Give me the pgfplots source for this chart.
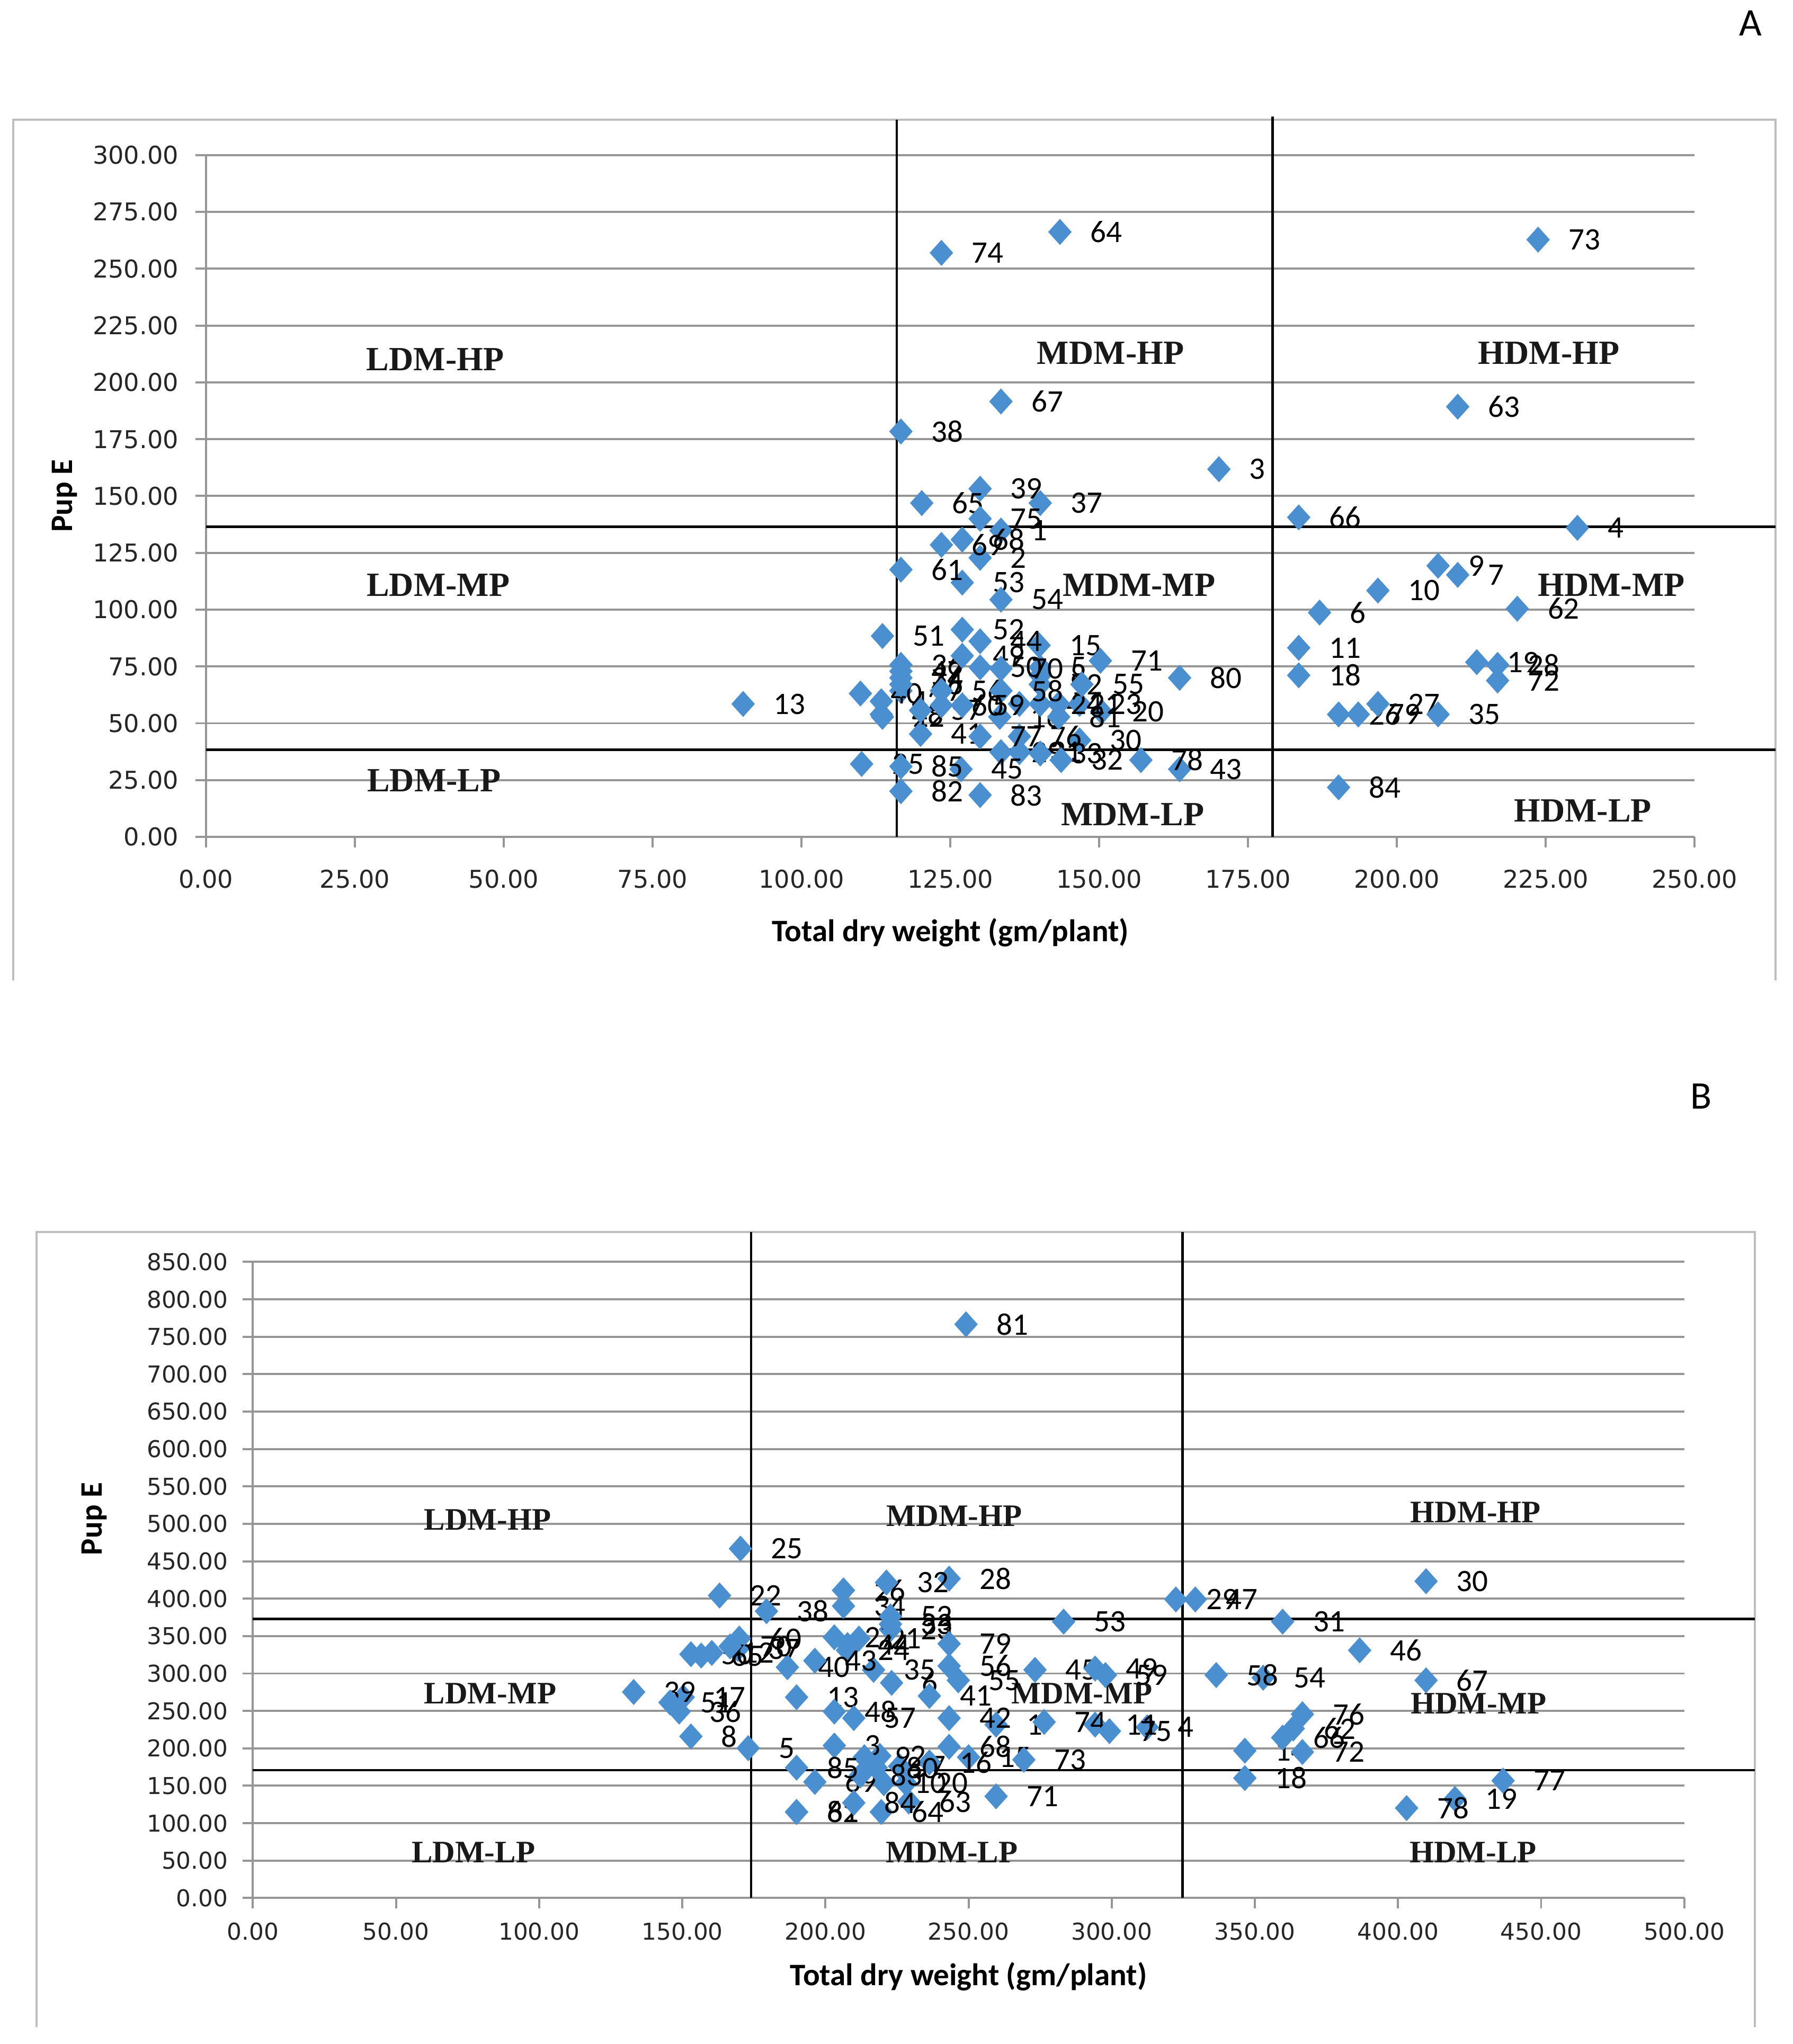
\documentclass[border=0pt]{standalone}
\usepackage{fontspec}
\usepackage{pgfplots}
\usepackage{pgfplotstable}
\pgfplotsset{compat=1.18}

\newfontfamily\tickfont{DejaVu Sans}
\newfontfamily\lblfont{Carlito}
\newfontfamily\quadfont{Liberation Serif}

\definecolor{mk}{RGB}{74,143,208}
\definecolor{gridc}{RGB}{150,150,150}
\definecolor{framec}{RGB}{190,190,190}

% chart A: total dry weight vs Pup E
\pgfplotstableread{
x y lab
133.5 134.8 1
130.0 122.8 2
170.1 161.8 3
230.3 136.0 4
140.1 74.6 5
187.0 98.7 6
210.2 115.3 7
140.1 71.1 8
206.9 119.3 9
196.8 108.4 10
183.5 83.2 11
140.1 67.1 12
90.2 58.5 13
136.6 58.5 14
139.9 84.3 15
133.3 52.8 16
116.7 64.3 17
183.5 71.1 18
213.4 76.9 19
150.4 55.1 20
143.2 58.5 21
113.6 52.8 22
146.7 58.5 23
140.1 58.5 24
110.1 32.1 25
190.2 53.9 26
196.8 58.5 27
216.9 75.7 28
133.5 37.3 29
146.7 42.5 30
136.6 37.3 31
143.6 33.8 32
140.1 36.7 33
116.7 70.0 34
206.9 53.9 35
116.7 75.7 36
140.1 146.9 37
116.7 178.4 38
130.0 153.2 39
109.9 63.1 40
120.0 45.3 41
113.4 59.7 42
163.5 29.8 43
130.0 86.1 44
126.8 29.8 45
116.7 67.1 46
116.7 72.9 47
113.4 53.9 48
127.0 79.7 49
130.0 74.6 50
113.6 88.4 51
127.0 91.2 52
127.0 111.9 53
133.5 104.4 54
147.1 67.1 55
123.5 64.3 56
120.0 55.7 57
133.5 64.3 58
127.0 57.9 59
123.5 57.9 60
116.7 117.6 61
220.2 100.4 62
210.2 189.3 63
143.4 266.2 64
120.2 146.9 65
183.5 140.6 66
133.5 191.6 67
127.0 130.8 68
123.5 128.5 69
133.5 74.0 70
150.2 77.5 71
216.9 68.8 72
223.7 262.8 73
123.5 257.0 74
130.0 140.0 75
136.6 44.2 76
130.0 44.2 77
157.0 33.8 78
193.5 53.9 79
163.5 70.0 80
143.2 52.8 81
116.7 20.1 82
130.0 18.4 83
190.2 21.8 84
116.7 31.0 85
}\dataA

% chart B
\pgfplotstableread{
x y lab
259.6 231.7 1
219.0 189.9 2
203.1 203.8 3
312.4 228.2 4
173.0 200.3 5
223.1 287.5 6
225.9 176.0 7
153.0 216.0 8
213.6 188.2 9
220.4 153.3 10
294.2 231.7 11
160.3 327.5 12
189.9 268.3 13
346.5 196.9 14
250.0 188.2 15
236.3 181.2 16
150.3 268.3 17
346.5 160.3 18
419.9 132.4 19
228.1 153.3 20
211.7 346.7 21
163.0 404.2 22
222.7 358.9 23
207.7 331.0 24
170.3 466.9 25
206.3 411.1 26
203.1 348.4 27
243.2 426.8 28
322.4 399.0 29
409.8 423.3 30
359.7 369.3 31
221.3 421.6 32
222.7 365.9 33
206.3 390.2 34
216.8 304.9 35
148.9 249.1 36
169.4 332.8 37
179.4 383.3 38
133.0 275.3 39
186.7 308.4 40
236.3 270.0 41
243.2 240.4 42
196.3 317.1 43
207.7 338.0 44
273.2 304.9 45
386.6 331.0 46
329.2 399.0 47
203.1 249.1 48
294.2 306.6 49
153.0 325.8 50
145.7 261.3 51
222.7 376.3 52
283.2 369.3 53
352.9 294.4 54
246.4 290.9 55
243.2 310.1 56
209.9 240.4 57
336.5 297.9 58
297.8 297.9 59
169.9 346.7 60
189.9 115.0 61
363.4 226.5 62
229.1 128.9 63
219.5 115.0 64
156.6 324.0 65
359.7 214.3 66
409.8 290.9 67
243.2 202.1 68
196.3 155.1 69
166.7 336.2 70
259.6 135.9 71
366.6 195.1 72
269.3 184.7 73
276.4 235.2 74
299.2 223.0 75
366.6 245.6 76
436.7 156.8 77
403.0 120.2 78
243.2 339.7 79
217.7 174.2 80
249.1 766.6 81
189.9 115.0 82
212.2 163.8 83
209.9 127.2 84
189.9 174.2 85
}\dataB

\pgfplotsset{
  excel/.style={
    scale only axis, clip=false, enlargelimits=false,
    axis x line*=bottom, axis y line*=left,
    axis line style={draw=gridc, line width=0.8pt, -},
    tick align=outside, major tick length=4pt,
    tick style={draw=gridc, line width=0.8pt},
    ymajorgrids, grid style={draw=gridc, line width=0.8pt},
    ticklabel style={font=\tickfont\fontsize{9.4}{11}\selectfont, text=black!85},
    /pgf/number format/fixed, /pgf/number format/fixed zerofill,
    /pgf/number format/precision=2, /pgf/number format/assume math mode=true,
    label style={font=\lblfont\bfseries\fontsize{12}{14}\selectfont},
    every node near coord/.append style={anchor=west, inner sep=0pt, xshift=11.5pt,
      font=\lblfont\fontsize{12}{13}\selectfont, text=black},
  },
  pts/.style={only marks, mark=diamond*, mark size=4.7pt,
    mark options={fill=mk, draw=mk, xscale=1.2},
    nodes near coords, point meta=explicit symbolic},
}
\tikzset{quad/.style={font=\quadfont\bfseries\fontsize{#1}{15}\selectfont, text=black!90}}

\begin{document}
\begin{tikzpicture}
\path[use as bounding box] (0,0) rectangle (687.5pt,-784pt);

% chart borders
\draw[framec, line width=0.8pt] (5pt,-376pt) -- (5pt,-46pt) -- (681pt,-46pt) -- (681pt,-376pt);
\draw[framec, line width=0.8pt] (14pt,-777.5pt) -- (14pt,-472.5pt) -- (673pt,-472.5pt) -- (673pt,-777.5pt);

\node[font=\lblfont\fontsize{15}{17}\selectfont] at (671.5pt,-9pt) {A};
\node[font=\lblfont\fontsize{15}{17}\selectfont] at (652.5pt,-420.5pt) {B};

\begin{axis}[excel,
    at={(79pt,-321pt)}, anchor=south west,
    width=571pt, height=261.5pt,
    xmin=0, xmax=250, ymin=0, ymax=300,
    xtick distance=25, ytick distance=25,
    xticklabel style={yshift=-5pt}, yticklabel style={xshift=-3pt},
    xlabel={Total dry weight (gm/plant)}, ylabel={Pup E},
    xlabel style={at={(axis description cs:0.5,-0.14)}, anchor=center},
    ylabel style={at={(axis description cs:-0.095,0.5)}, anchor=center, rotate=0},
  ]
  \draw[black, line width=0.9pt] (axis cs:116,0) -- (axis cs:116,315.5);
  \draw[black, line width=0.9pt] (axis cs:179.1,0) -- (axis cs:179.1,317);
  \draw[black, line width=0.9pt] (axis cs:0,136.5) -- (axis cs:263.6,136.5);
  \draw[black, line width=0.9pt] (axis cs:0,38.4) -- (axis cs:263.6,38.4);

  \addplot[pts] table[x=x, y=y, meta=lab] {\dataA};

  \node[quad=13] at (axis cs:38.5,210) {LDM-HP};
  \node[quad=13] at (axis cs:151.9,212.9) {MDM-HP};
  \node[quad=13] at (axis cs:225.5,212.9) {HDM-HP};
  \node[quad=13] at (axis cs:39.0,110.7) {LDM-MP};
  \node[quad=13] at (axis cs:156.7,110.7) {MDM-MP};
  \node[quad=13] at (axis cs:236.0,110.7) {HDM-MP};
  \node[quad=13] at (axis cs:38.3,24.7) {LDM-LP};
  \node[quad=13] at (axis cs:155.6,9.8) {MDM-LP};
  \node[quad=13] at (axis cs:231.2,11.5) {HDM-LP};
\end{axis}

\begin{axis}[excel,
    at={(97pt,-728pt)}, anchor=south west,
    width=549pt, height=244pt,
    xmin=0, xmax=500, ymin=0, ymax=850,
    xtick distance=50, ytick distance=50,
    ticklabel style={font=\tickfont\fontsize{8.9}{10}\selectfont},
    xticklabel style={yshift=-2pt}, yticklabel style={xshift=-2pt},
    xlabel={Total dry weight (gm/plant)}, ylabel={Pup E},
    xlabel style={at={(axis description cs:0.5,-0.123)}, anchor=center},
    ylabel style={at={(axis description cs:-0.111,0.596)}, anchor=center, rotate=0},
  ]
  \draw[black, line width=0.9pt] (axis cs:174.0,0) -- (axis cs:174.0,890);
  \draw[black, line width=0.9pt] (axis cs:324.7,0) -- (axis cs:324.7,890);
  \draw[black, line width=0.9pt] (axis cs:0,372.8) -- (axis cs:524.6,372.8);
  \draw[black, line width=0.9pt] (axis cs:0,170.7) -- (axis cs:524.6,170.7);

  \addplot[pts] table[x=x, y=y, meta=lab] {\dataB};

  \node[quad=12] at (axis cs:82.0,505.2) {LDM-HP};
  \node[quad=12] at (axis cs:245.0,510.5) {MDM-HP};
  \node[quad=12] at (axis cs:427.1,515.7) {HDM-HP};
  \node[quad=12] at (axis cs:82.9,273.5) {LDM-MP};
  \node[quad=12] at (axis cs:289.6,273.5) {MDM-MP};
  \node[quad=12] at (axis cs:428.1,259.6) {HDM-MP};
  \node[quad=12] at (axis cs:77.0,61.0) {LDM-LP};
  \node[quad=12] at (axis cs:244.1,61.0) {MDM-LP};
  \node[quad=12] at (axis cs:426.2,61.0) {HDM-LP};
\end{axis}
\end{tikzpicture}
\end{document}
